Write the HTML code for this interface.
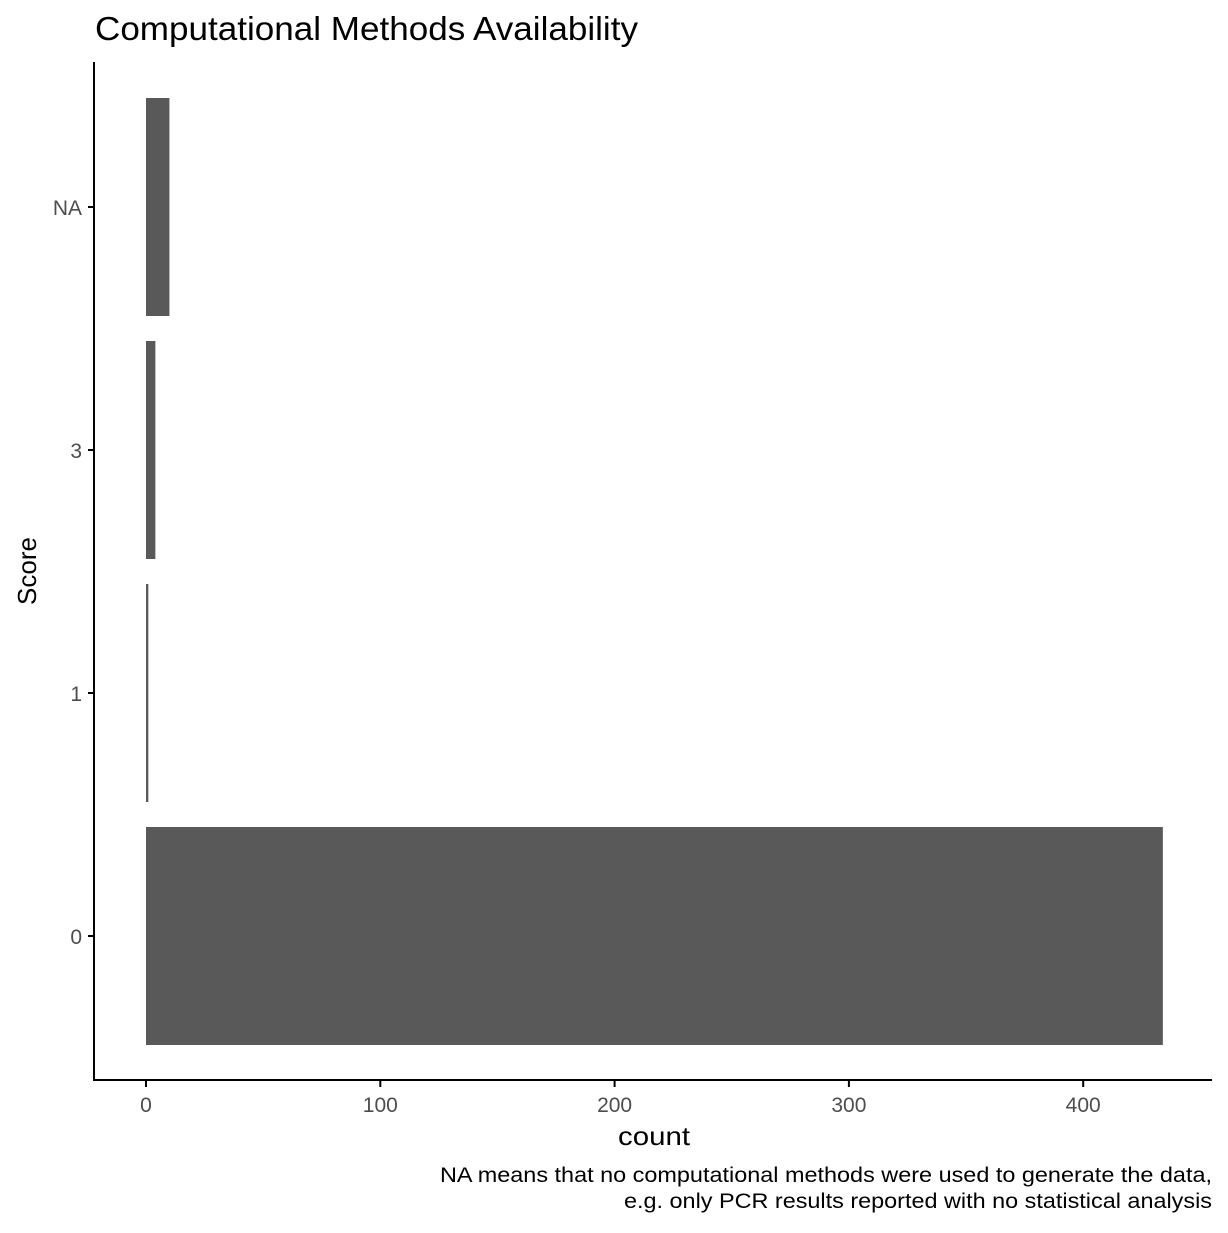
<!DOCTYPE html>
<html><head><meta charset="utf-8"><style>
body{margin:0;background:#fff}
svg text{font-family:"Liberation Sans",Arial,sans-serif}
</style></head><body>
<svg id="chart" width="1228" height="1228">
<text x="95" y="40" font-size="33" textLength="543" lengthAdjust="spacingAndGlyphs" fill="#000">Computational Methods Availability</text>
<g id="bars"></g>
<line x1="94" y1="62" x2="94" y2="1081" stroke="#000" stroke-width="2"/>
<line x1="93" y1="1080" x2="1212" y2="1080" stroke="#000" stroke-width="2"/>
<g id="xt"></g><g id="yt"></g>
<text x="618" y="1145" font-size="26" textLength="72" lengthAdjust="spacingAndGlyphs">count</text>
<text transform="translate(36,571) rotate(-90)" font-size="26" text-anchor="middle">Score</text>
<text x="440" y="1182" font-size="21" textLength="772" lengthAdjust="spacingAndGlyphs">NA means that no computational methods were used to generate the data,</text>
<text x="624" y="1208" font-size="21" textLength="588" lengthAdjust="spacingAndGlyphs">e.g. only PCR results reported with no statistical analysis</text>
</svg>
<script>
const categories=["0","1","3","NA"];
const counts=[434,1,4,10];
const xTicks=[0,100,200,300,400];
const ns="http://www.w3.org/2000/svg";
const x=v=>146+v*2.343;
const y=i=>936-i*243;
const bw=218;
const bars=document.getElementById('bars'),xt=document.getElementById('xt'),yt=document.getElementById('yt');
function mk(t,a,p){const e=document.createElementNS(ns,t);for(const k in a)e.setAttribute(k,a[k]);p.appendChild(e);return e;}
categories.forEach((c,i)=>{
 const r=mk('rect',{x:x(0),y:y(i)-bw/2,width:x(counts[i])-x(0),height:bw,fill:'#595959'},bars);
 
 
 const l=mk('line',{x1:88,x2:94,y1:y(i),y2:y(i),stroke:'#000','stroke-width':2},yt);
 
 
 const t=mk('text',{x:82,y:y(i)+8,'font-size':21,fill:'#4d4d4d','text-anchor':'end'},yt);
 t.textContent=c;
 
 
});
xTicks.forEach(v=>{
 const l=mk('line',{x1:x(v),x2:x(v),y1:1080,y2:1087,stroke:'#000','stroke-width':2},xt);
 
 
 const t=mk('text',{x:x(v),y:1112,'font-size':21,fill:'#4d4d4d','text-anchor':'middle'},xt);
 t.textContent=v;
 
 
});
</script>
</body></html>
